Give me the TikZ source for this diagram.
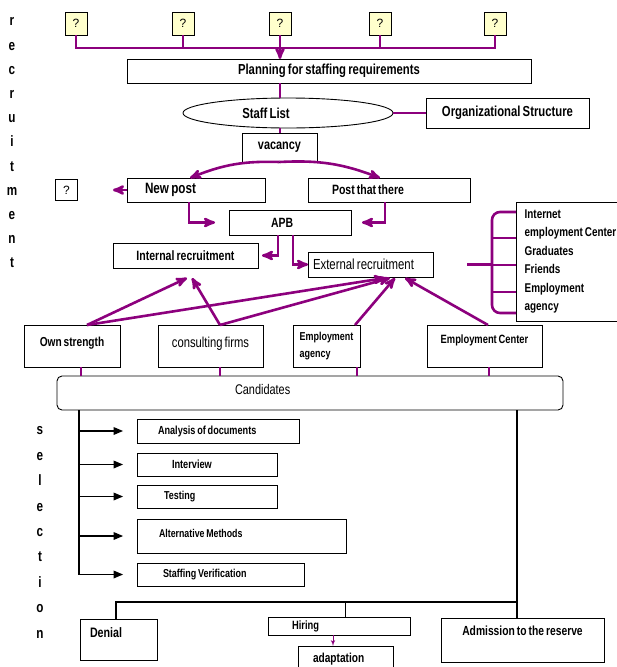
\documentclass[tikz,border=0pt]{standalone}
\usepackage{fontspec}
\setmainfont{Liberation Sans}
\newfontfamily\nf[FakeStretch=0.78,WordSpace=0.7]{Liberation Sans}
\usepackage{tikz}
\usetikzlibrary{arrows}
\usetikzlibrary{positioning}
\usetikzlibrary{shapes.geometric}
\definecolor{plum}{RGB}{140,0,125}
\definecolor{qfill}{RGB}{255,255,204}
\newcommand{\fsz}[1]{\fontsize{#1pt}{#1pt}\selectfont}
\newcommand{\lt}[2]{\hbox to #1pt{#2\hfil}}

\begin{document}
\begin{tikzpicture}[x=1pt,y=-1pt,>=stealth',
  box/.style={draw,line width=.9pt,anchor=north west,inner ysep=0pt,outer sep=0pt},
  bb/.style={font=\nf\bfseries\fsz{#1}},
  rr/.style={font=\nf\fsz{#1}},
  pad/.style={inner xsep=#1pt},
  qbox/.style={draw,line width=.9pt,fill=qfill,minimum width=22pt,minimum height=23pt,inner sep=0pt,font=\fsz{12}},
  pline/.style={draw=plum,line width=2.6pt},
  parrow/.style={pline,->},
  sline/.style={line width=1.2pt},
  sarrow/.style={sline,-triangle 45}]

  \useasboundingbox (0,0) rectangle (617,667);

  \node[font=\nf\bfseries\fontsize{15pt}{24.2pt}\selectfont,align=center] (recr) at (12,143) {r\\e\\c\\r\\u\\i\\t\\m\\e\\n\\t};
  \node[font=\nf\bfseries\fontsize{15pt}{25.4pt}\selectfont,align=center] (sel) at (40,532.5) {s\\e\\l\\e\\c\\t\\i\\o\\n};

  \foreach \n/\x in {1/76,2/183,3/280,4/380,5/495}
    \node[qbox] (q\n) at (\x,23.5) {?};

  \node[box,bb=14.5,minimum width=404pt,minimum height=24pt] (plan) at (127,59) {Planning for staffing requirements};
  \node[ellipse,draw,line width=.9pt,minimum width=210pt,minimum height=30pt,inner sep=0pt,
        label={[bb=14.5,xshift=-22pt]center:Staff List}] (staff) at (288,113) {};
  \node[box,bb=14.5,minimum width=163pt,minimum height=30pt] (org) at (426,98) {Organizational Structure};
  \node[box,bb=14,minimum width=75pt,minimum height=29pt] (vac) at (242,133) {vacancy};
  \node[box,bb=15,minimum width=138pt,minimum height=24pt,pad=18] (newpost) at (127,178) {\lt{102}{New post}};
  \node[box,bb=13.5,minimum width=162pt,minimum height=24pt,pad=24] (post) at (308,178) {\lt{114}{Post that there}};
  \node[qbox,fill=white,minimum height=21pt] (qleft) at (66.5,190) {?};
  \node[box,bb=13.4,minimum width=122pt,minimum height=25pt,pad=42] (apb) at (229,210) {\lt{38}{APB}};
  \node[box,bb=13.5,minimum width=145pt,minimum height=25pt] (intr) at (113,243) {Internal recruitment};
  \node[box,rr=14.6,minimum width=125pt,minimum height=25pt,pad=5] (extr) at (308,252) {\lt{115}{External recruitment}};
  \node[box,font=\nf\bfseries\fontsize{12.7pt}{18.4pt}\selectfont,minimum width=109pt,minimum height=119pt,align=left] (lst) at (516,202)
    {Internet\\employment Center\\Graduates\\Friends\\Employment\\agency};

  \node[box,bb=13,minimum width=96pt,minimum height=42pt,text depth=8pt] (own) at (24,325) {Own strength};
  \node[box,rr=14.4,minimum width=105pt,minimum height=42pt,text depth=7pt] (cons) at (158,325) {consulting firms};
  \node[box,font=\nf\bfseries\fontsize{11.5pt}{17pt}\selectfont,minimum width=67pt,minimum height=42pt,align=left] (empag) at (293,325) {Employment\\agency};
  \node[box,bb=12,minimum width=115pt,minimum height=42pt,text depth=14pt] (empc) at (427,325) {Employment Center};
  \node[box,rr=14,rounded corners=5pt,minimum width=506pt,minimum height=34pt,pad=178,text depth=7pt] (cand) at (57,376) {\lt{150}{Candidates}};

  \node[box,bb=11.7,minimum width=162pt,minimum height=24pt,pad=21] (ana) at (137,419) {\lt{120}{Analysis of documents}};
  \node[box,bb=11.8,minimum width=140pt,minimum height=23pt,pad=35] (intv) at (137,453) {\lt{70}{Interview}};
  \node[box,bb=11.5,minimum width=140pt,minimum height=23pt,pad=27] (test) at (137,485) {\lt{86}{Testing}};
  \node[box,bb=11.3,minimum width=209pt,minimum height=34pt,pad=22,text depth=6pt] (alt) at (137,519) {\lt{165}{Alternative Methods}};
  \node[box,bb=11.5,minimum width=167pt,minimum height=23pt,pad=26] (staffv) at (137,563) {\lt{115}{Staffing Verification}};

  \node[box,bb=13.7,minimum width=77pt,minimum height=41pt,pad=10,text depth=13pt] (den) at (80,619) {\lt{57}{Denial}};
  \node[box,bb=12,minimum width=142pt,minimum height=18pt,pad=24] (hire) at (268,617) {\lt{94}{Hiring}};
  \node[box,bb=13,minimum width=95pt,minimum height=26pt,pad=15] (adapt) at (298,646) {\lt{65}{adaptation}};
  \node[box,bb=13.2,minimum width=163pt,minimum height=44pt,text depth=19pt] (adm) at (441,618) {Admission to the reserve};

  \draw[pline] (q1.south) -- (q1.south |- 0,48) -- (q5.south |- 0,48) -- (q5.south);
  \draw[pline] (q2.south) -- (q2.south |- 0,48);
  \draw[pline] (q4.south) -- (q4.south |- 0,48);
  \draw[parrow] (q3.south) -- (q3.south |- plan.north);
  \draw[pline] (q3.south |- plan.south) -- (q3.south |- staff.north);
  \draw[pline] (q3.south |- staff.south) -- (q3.south |- vac.north);
  \draw[pline] (staff.east) -- (org.west);

  \draw[parrow] (vac.south) to[bend right=12] ([xshift=-6pt]newpost.north);
  \draw[parrow] (vac.south) to[bend left=12] ([xshift=-9pt]post.north);
  \draw[parrow,shorten >=35pt] (newpost.west) -- (newpost.west -| qleft.east);
  \draw[parrow,shorten >=14pt] ([xshift=-7pt]newpost.south) |- (apb.west);
  \draw[parrow,shorten >=11pt] ([xshift=-4pt]post.south) |- (apb.east);
  \draw[parrow,shorten >=4pt] ([xshift=-12pt]apb.south) |- (intr.east);
  \draw[parrow] ([xshift=3pt]apb.south) |- (extr.west);

  \coordinate (brk) at (492,265);
  \draw[pline,shorten <=34pt] (extr.east) -- (extr.east -| brk);
  \draw[pline,rounded corners=8pt] (lst.west |- 0,212) -- (brk |- 0,212) -- (brk |- 0,313) -- (lst.west |- 0,313);
  \foreach \y in {238,265,292}
    \draw[pline] (brk |- 0,\y) -- (lst.west |- 0,\y);

  \draw[parrow] ([xshift=15pt]own.north) -- ([xshift=1.5pt,yshift=-10pt]intr.south);
  \draw[parrow] ([xshift=9.5pt]cons.north) -- ([xshift=6.5pt,yshift=-10pt]intr.south);
  \draw[parrow] ([xshift=15pt]own.north) -- ([xshift=14.5pt,yshift=-1pt]extr.south);
  \draw[parrow] ([xshift=9.5pt]cons.north) -- ([xshift=19.5pt,yshift=-1pt]extr.south);
  \draw[parrow] ([xshift=28.5pt]empag.north) -- ([xshift=24.5pt,yshift=-1pt]extr.south);
  \draw[parrow] ([xshift=3.5pt]empc.north) -- ([xshift=34.5pt,yshift=-1pt]extr.south);
  \foreach \b/\s in {own/9,cons/9.5,empag/30.5,empc/4.5}
    \draw[pline] ([xshift=\s]\b.south) -- ([xshift=\s]\b.south |- cand.north);

  \coordinate (trk) at (79,0);
  \draw[sline] (cand.south -| trk) -- (staffv.west -| trk);
  \foreach \b in {ana,intv,test,alt,staffv}
    \draw[sarrow,shorten >=14pt] (\b.west -| trk) -- (\b.west);

  \coordinate (split) at (517,602);
  \draw[sline] (cand.south -| split) -- ([xshift=-5.5pt]adm.north);
  \draw[sline] (split) -| ([xshift=-2.5pt]den.north);
  \draw[line width=.7pt] ([xshift=6pt]hire.north) -- ([xshift=6pt]hire.north |- split);
  \draw[->,>=latex',draw=plum,line width=1pt] ([xshift=-6pt]hire.south) -- ([xshift=-6pt]hire.south |- adapt.north);
\end{tikzpicture}
\end{document}
